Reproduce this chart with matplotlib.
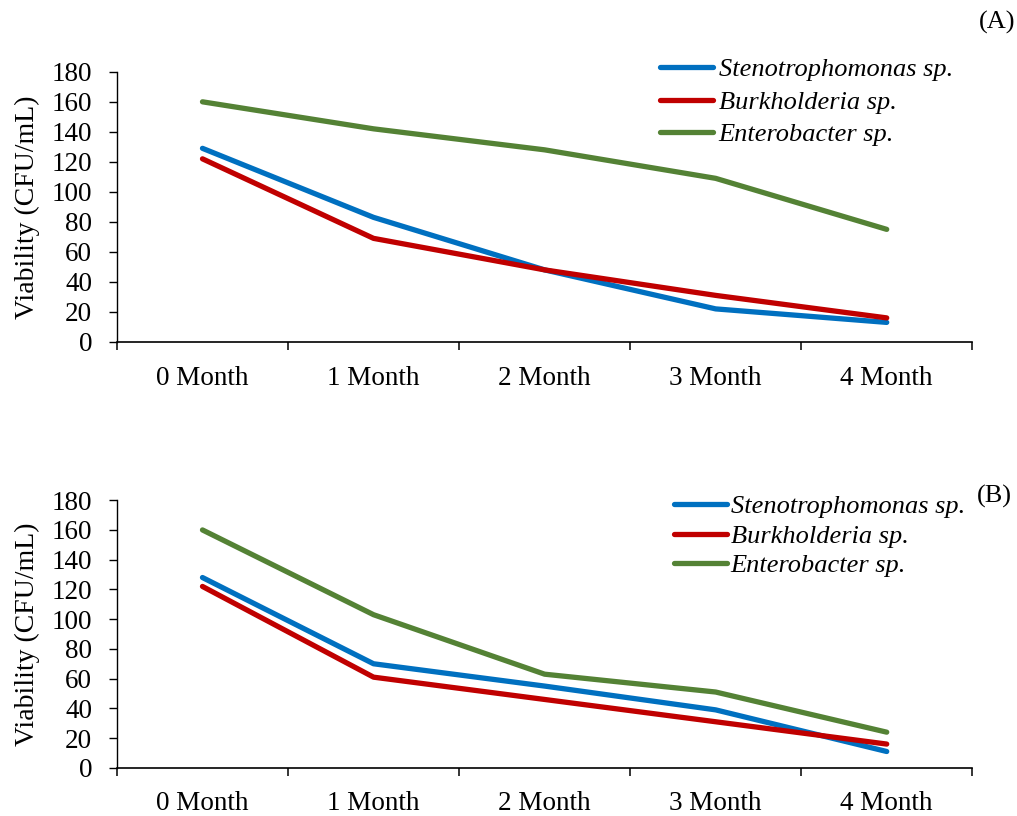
import numpy as np
import matplotlib
matplotlib.use("Agg")
import matplotlib.pyplot as plt

months = ["0 Month", "1 Month", "2 Month", "3 Month", "4 Month"]
species = ["Stenotrophomonas sp.", "Burkholderia sp.", "Enterobacter sp."]
colors = ["#0070C0", "#C00000", "#548235"]

# panel A
steno_a = [129, 83, 48, 22, 13]
burk_a = [122, 69, 48, 31, 16]
entero_a = [160, 142, 128, 109, 75]

# panel B
steno_b = [128, 70, 55, 39, 11]
burk_b = [122, 61, 46, 31, 16]
entero_b = [160, 103, 63, 51, 24]

plt.rcParams["font.family"] = ["Liberation Serif", "DejaVu Serif"]

fig = plt.figure(figsize=(10.17, 8.16), dpi=100)
ax_a = fig.add_axes([0.115, 0.581, 0.841, 0.331])
ax_b = fig.add_axes([0.115, 0.059, 0.841, 0.328])

x = np.arange(len(months))


def draw(ax, series, leg_anchor, leg_space, text_pad):
    for vals, name, c in zip(series, species, colors):
        ax.plot(x, vals, color=c, lw=3.8, label=name, solid_capstyle="round")
    ax.set_xlim(-0.5, len(months) - 0.5)
    ax.set_ylim(0, 180)
    ax.set_yticks(range(0, 181, 20))
    ax.set_xticks(x)
    ax.set_xticklabels(months)
    ax.set_xticks(np.arange(-0.5, len(months)), minor=True)
    ax.tick_params(axis="x", which="major", length=0, pad=17, labelsize=19.5)
    ax.tick_params(axis="x", which="minor", length=5.8, width=1.1, direction="out")
    ax.tick_params(axis="y", length=5.8, width=1, pad=12, labelsize=19.5)
    for s in ["top", "right"]:
        ax.spines[s].set_visible(False)
    ax.spines["left"].set_linewidth(1)
    ax.spines["bottom"].set_linewidth(1.2)
    ax.set_ylabel("Viability (CFU/mL)", fontsize=20, labelpad=8)
    ax.legend(loc="upper left", bbox_to_anchor=leg_anchor,
              bbox_transform=fig.transFigure, frameon=False,
              prop={"style": "italic", "size": 19},
              handlelength=2.0, handletextpad=text_pad,
              labelspacing=leg_space, borderaxespad=0)


draw(ax_a, [steno_a, burk_a, entero_a], (0.6385, 0.942), 0.34, 0.23)
draw(ax_b, [steno_b, burk_b, entero_b], (0.6523, 0.4064), 0.23, 0.15)

fig.text(0.998, 0.973, "(A)", ha="right", va="center", fontsize=19)
fig.text(0.995, 0.391, "(B)", ha="right", va="center", fontsize=19)

fig.savefig("out.png", dpi=100, facecolor="white")
